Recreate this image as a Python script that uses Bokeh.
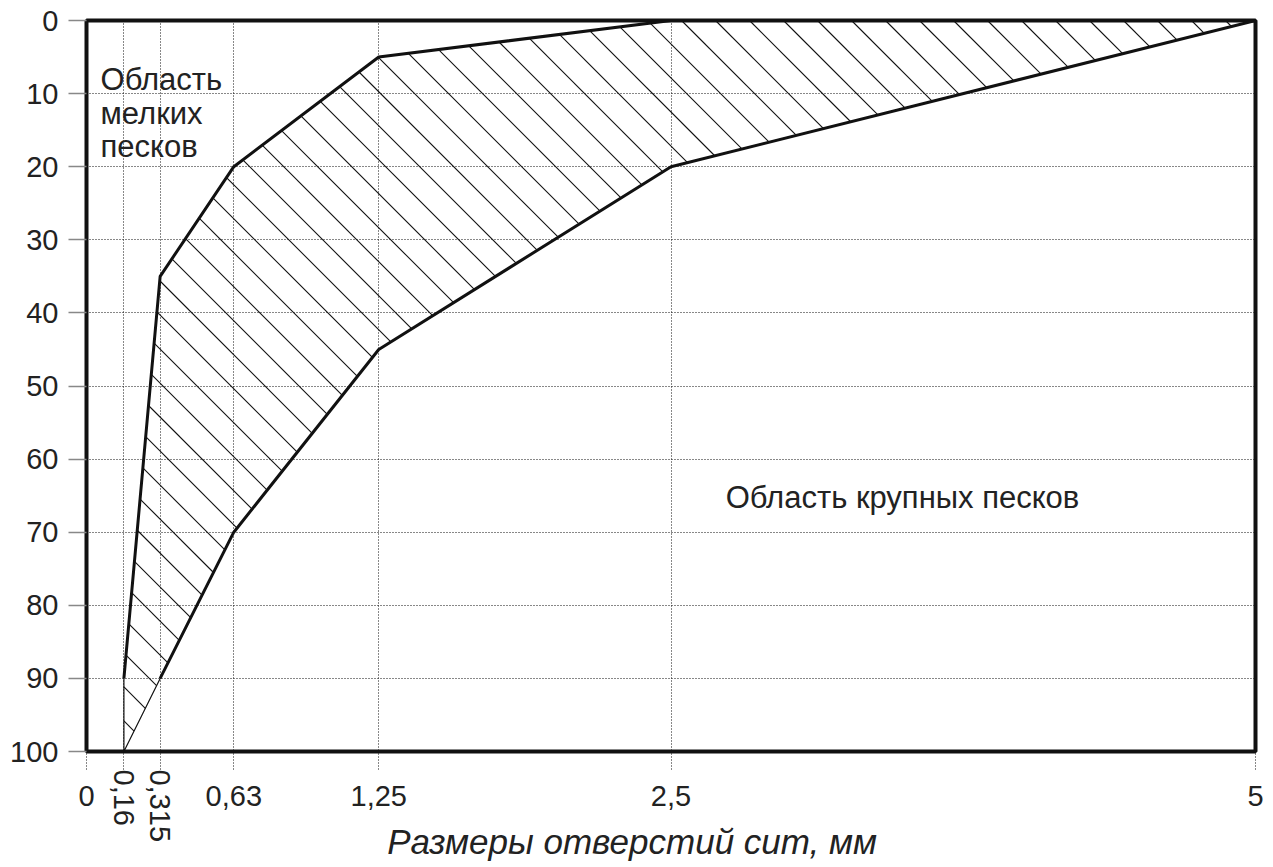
import math
from bokeh.plotting import figure
from bokeh.models import Range1d, FixedTicker, Label, LinearAxis
from bokeh.embed import file_html
from bokeh.resources import INLINE

# ---- data ----
x_ticks = [0, 0.16, 0.315, 0.63, 1.25, 2.5, 5]
x_tick_labels = ["0", "0,16", "0,315", "0,63", "1,25", "2,5", "5"]
rotated_ticks = [0.16, 0.315]
y_ticks = [0, 10, 20, 30, 40, 50, 60, 70, 80, 90, 100]

# boundary of fine sands (upper curve)
fine_x = [0.16, 0.16, 0.315, 0.63, 1.25, 2.5, 5]
fine_y = [100, 90, 35, 20, 5, 0, 0]
# boundary of coarse sands (lower curve)
coarse_x = [0.16, 0.315, 0.63, 1.25, 2.5, 5]
coarse_y = [100, 90, 70, 45, 20, 0]

x_title = "Размеры отверстий сит, мм"
fine_label = ["Область", "мелких", "песков"]
coarse_label = "Область крупных песков"

FONT = "Liberation Sans"
TXT = "#222222"

W, H = 1265, 867
BL, BR, BT = 86, 10, 20
FW, FH = W - BL - BR, 731
BB = H - BT - FH
X0, X1, Y0, Y1 = 0, 5, 0, 100

p = figure(width=W, height=H, output_backend="svg", toolbar_location=None,
           x_range=Range1d(X0, X1), y_range=Range1d(Y1, Y0),
           min_border_left=BL, min_border_right=BR, min_border_top=BT, min_border_bottom=BB)
p.background_fill_color = "white"
p.border_fill_color = "white"
p.outline_line_color = "#111111"
p.outline_line_width = 4

# main x axis (horizontal labels)
p.xaxis.ticker = FixedTicker(ticks=x_ticks)
overrides = {}
for t, l in zip(x_ticks, x_tick_labels):
    overrides[t] = "" if t in rotated_ticks else l
p.xaxis.major_label_overrides = overrides
p.xaxis.axis_line_color = None
p.xaxis.minor_tick_line_color = None
p.xaxis.major_tick_in = 0
p.xaxis.major_tick_out = 18
p.xaxis.major_tick_line_dash = "1 2"
p.xaxis.major_tick_line_color = "#111111"
p.xaxis.major_label_standoff = 16
p.xaxis.major_label_text_font = FONT
p.xaxis.major_label_text_font_size = "29px"
p.xaxis.major_label_text_color = TXT

# second axis below: vertical tick labels (pulled up next to the frame) + axis title
# (trailing no-break spaces shift the centred title to the left, as in the original)
rot_axis = LinearAxis(ticker=FixedTicker(ticks=rotated_ticks),
                      major_label_overrides={t: l for t, l in zip(x_ticks, x_tick_labels)
                                             if t in rotated_ticks},
                      major_label_orientation="vertical",
                      axis_line_color=None, major_tick_line_color=None,
                      minor_tick_line_color=None, major_tick_in=0, major_tick_out=0,
                      major_label_standoff=-39,
                      major_label_text_font=FONT, major_label_text_font_size="29px",
                      major_label_text_color=TXT,
                      axis_label=x_title + "\u00a0" * 8, axis_label_standoff=-23,
                      axis_label_text_font=FONT, axis_label_text_font_style="italic",
                      axis_label_text_font_size="35px", axis_label_text_color=TXT)
p.add_layout(rot_axis, "below")

# y axis
p.yaxis.ticker = FixedTicker(ticks=y_ticks)
p.yaxis.axis_line_color = None
p.yaxis.minor_tick_line_color = None
p.yaxis.major_tick_in = 0
p.yaxis.major_tick_out = 18
p.yaxis.major_tick_line_color = "#888888"
p.yaxis.major_tick_line_width = 1.5
p.yaxis.major_label_standoff = 10
p.yaxis.major_label_text_font = FONT
p.yaxis.major_label_text_font_size = "29px"
p.yaxis.major_label_text_color = TXT

# grids
p.xgrid.ticker = FixedTicker(ticks=x_ticks)
p.ygrid.ticker = FixedTicker(ticks=y_ticks)
for g in (p.xgrid, p.ygrid):
    g.grid_line_color = "#111111"
    g.grid_line_dash = "1 2"
    g.grid_line_width = 1

# hatched zone between the boundaries
zone_x = fine_x + coarse_x[::-1]
zone_y = fine_y + coarse_y[::-1]
p.patch(zone_x, zone_y, fill_alpha=0, line_color="#111111", line_width=1.2)

# hatch lines at 45 deg in screen space, clipped to the zone
kx, ky = FW / (X1 - X0), FH / (Y1 - Y0)
pts = [((x - X0) * kx, (y - Y0) * ky) for x, y in zip(zone_x, zone_y)]
step = 34.0
hx, hy = [], []
c = -FH
while c < FW:
    inter = []
    n = len(pts)
    for i in range(n):
        (ax_, ay_), (bx_, by_) = pts[i], pts[(i + 1) % n]
        fa, fb = ax_ - ay_ - c, bx_ - by_ - c
        if (fa < 0) != (fb < 0):
            tt = fa / (fa - fb)
            inter.append((ax_ + tt * (bx_ - ax_), ay_ + tt * (by_ - ay_)))
    inter.sort()
    for j in range(0, len(inter) - 1, 2):
        (sx0, sy0), (sx1, sy1) = inter[j], inter[j + 1]
        hx.append([X0 + sx0 / kx, X0 + sx1 / kx])
        hy.append([Y0 + sy0 / ky, Y0 + sy1 / ky])
    c += step
p.multi_line(hx, hy, line_color="#111111", line_width=1.1)

p.line(fine_x[1:], fine_y[1:], line_color="#111111", line_width=3)
p.line(coarse_x[1:], coarse_y[1:], line_color="#111111", line_width=3)

# region labels
for i, line in enumerate(fine_label):
    p.add_layout(Label(x=0.06, y=8.1 + i * 4.6, text=line, text_align="left",
                       text_baseline="alphabetic", text_font=FONT,
                       text_font_size="31px", text_color=TXT))
p.add_layout(Label(x=3.49, y=65.3, text=coarse_label, text_align="center",
                   text_baseline="middle", text_font=FONT,
                   text_font_size="31px", text_color=TXT))

open("out.html", "w").write(file_html(p, INLINE))
